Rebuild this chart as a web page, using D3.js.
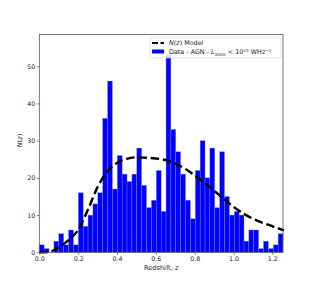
<!DOCTYPE html>
<html><head><meta charset="utf-8">
<script src="https://cdn.jsdelivr.net/npm/d3@7"></script>
<style>body{margin:0;background:#fff}svg{display:block}text{font-family:"DejaVu Sans",sans-serif}</style>
</head><body>
<svg id="c" width="315" height="284"></svg>
<script>
// Histogram: 50 bins from z=0 to z=1.255
const binStart = 0.0;
const binWidth = 0.0251;
const counts = [2,1,0,3,5,2,6,2,16,7,10,13,16,36,46,17,26,21,19,21,28,18,12,14,22,11,53,33,27,21,14,9,22,30,20,28,12,27,15,10,11,10,3,6,6,1,3,1,2,5];
// Model curve N(z)
const modelZ = [0.0,0.05,0.09,0.13,0.17,0.2,0.25,0.3,0.345,0.4,0.45,0.5,0.55,0.6,0.67,0.755,0.84,0.924,1.008,1.093,1.178,1.26];
const modelN = [0.0,0.1,1.0,2.4,4.2,6.0,11.4,17.5,21.4,24.0,25.1,25.5,25.4,25.2,24.5,22.3,19.1,15.5,11.9,9.2,7.4,5.9];
const xTicks = [0.0,0.2,0.4,0.6,0.8,1.0,1.2];
const yTicks = [0,10,20,30,40,50];

const svg = d3.select("#c");
const L=39.3, R=283, T=34.5, B=252.3;
const x = d3.scaleLinear().domain([0,1.255]).range([L,R]);
const y = d3.scaleLinear().domain([0,58.5]).range([B,T]);

const bins = counts.map((c,i)=>({x0:binStart+i*binWidth, x1:binStart+(i+1)*binWidth, c}));
svg.append("g").selectAll("rect").data(bins).join("rect")
  .attr("x",d=>x(d.x0)).attr("width",d=>x(d.x1)-x(d.x0))
  .attr("y",d=>y(d.c)).attr("height",d=>B-y(d.c))
  .attr("fill","#0000ff").attr("stroke","#8a8aff").attr("stroke-width",0.35);

const line = d3.line().x((d,i)=>x(modelZ[i])).y(d=>y(d)).curve(d3.curveMonotoneX);
svg.append("path").datum(modelN).attr("d",line)
  .attr("fill","none").attr("stroke","#000").attr("stroke-width",2.4)
  .attr("stroke-dasharray","8.5,3.8");

// Axes
const xa = svg.append("g").attr("transform",`translate(0,${B})`)
  .call(d3.axisBottom(x).tickValues(xTicks).tickFormat(d3.format(".1f")).tickSize(2.5).tickPadding(1.5));
const ya = svg.append("g").attr("transform",`translate(${L},0)`)
  .call(d3.axisLeft(y).tickValues(yTicks).tickSize(2.5).tickPadding(1.5));
[xa,ya].forEach(a=>{a.select(".domain").remove();a.selectAll("text").attr("font-size",6.3).attr("fill","#222").attr("font-family","DejaVu Sans");a.selectAll("line").attr("stroke","#333").attr("stroke-width",0.6);});

svg.append("rect").attr("x",L).attr("y",T).attr("width",R-L).attr("height",B-T)
  .attr("fill","none").attr("stroke","#555").attr("stroke-width",0.8);

svg.append("text").attr("x",(L+R)/2).attr("y",270).attr("text-anchor","middle").attr("font-size",6.6).attr("fill","#222")
  .html('Redshift, <tspan font-style="italic">z</tspan>');
svg.append("text").attr("transform",`translate(22,${(T+B)/2-3}) rotate(-90)`).attr("text-anchor","middle").attr("font-size",6.6).attr("fill","#222")
  .html('<tspan font-style="italic">N</tspan>(<tspan font-style="italic">z</tspan>)');

// Legend
const lg = svg.append("g");
lg.append("rect").attr("x",150).attr("y",37).attr("width",131).attr("height",21).attr("rx",1.5)
  .attr("fill","#fff").attr("fill-opacity",0.8).attr("stroke","#ccc").attr("stroke-width",0.6);
lg.append("line").attr("x1",152).attr("x2",164).attr("y1",43).attr("y2",43)
  .attr("stroke","#000").attr("stroke-width",2.2).attr("stroke-dasharray","6,2.5");
lg.append("rect").attr("x",152).attr("y",49.5).attr("width",12).attr("height",4).attr("fill","#0000ff");
lg.append("text").attr("x",169).attr("y",45.3).attr("font-size",6.4).attr("fill","#222")
  .html('<tspan font-style="italic">N</tspan>(<tspan font-style="italic">z</tspan>) Model');
lg.append("text").attr("x",169).attr("y",54.3).attr("font-size",6.4).attr("fill","#222")
  .html('Data - AGN - <tspan font-style="italic">L</tspan><tspan font-size="4.2" dy="1.2">3GHz</tspan><tspan dy="-1.2"> &lt; 10</tspan><tspan font-size="4.2" dy="-2.5">23</tspan><tspan dy="2.5"> WHz</tspan><tspan font-size="4.2" dy="-2.5">−1</tspan>');
</script>
</body></html>
